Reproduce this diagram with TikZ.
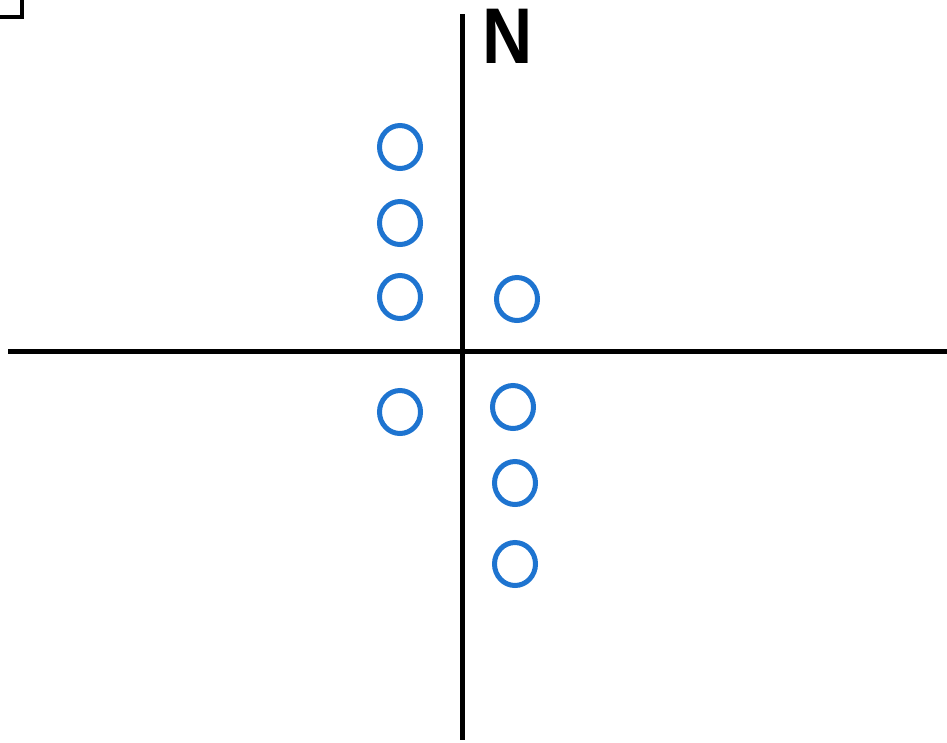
\documentclass[tikz,border=0pt]{standalone}
\usepackage{fontspec}
\setmainfont{Liberation Sans}
\usetikzlibrary{shapes.geometric}
\definecolor{ringblue}{RGB}{30,116,208}
\begin{document}
\begin{tikzpicture}[x=1pt,y=-1pt,
  axis/.style={line width=5.5pt,black},
  ring/.style={draw=ringblue,line width=5pt,ellipse,minimum width=41pt,minimum height=43pt,inner sep=0pt}]
\useasboundingbox (0,0) rectangle (947,742);
\fill[white] (0,0) rectangle (947,742);
% corner box fragment
\coordinate (c1) at (-3,17);
\coordinate (c2) at (22,17);
\coordinate (c3) at (22,-3);
\draw[line width=4.5pt,black] (c1) -- (c2) -- (c3);
% axes
\coordinate (xl) at (8,351.5);
\coordinate (xr) at (950,351.5);
\coordinate (yt) at (462.5,14);
\coordinate (yb) at (462.5,740);
\draw[axis] (xl) -- (xr);
\draw[axis] (yt) -- (yb);
% north label
\node[anchor=north west,inner sep=0pt,xscale=0.88,font=\fontsize{79}{79}\selectfont\bfseries] (N) at (482,9) {N};
% circles
\node[ring] (a1) at (400,147) {};
\node[ring] (a2) at (400,223) {};
\node[ring] (a3) at (400,297) {};
\node[ring] (b1) at (517,299) {};
\node[ring] (a4) at (400,412) {};
\node[ring] (b2) at (513,407) {};
\node[ring] (b3) at (515,483) {};
\node[ring] (b4) at (515,564) {};
\end{tikzpicture}
\end{document}
